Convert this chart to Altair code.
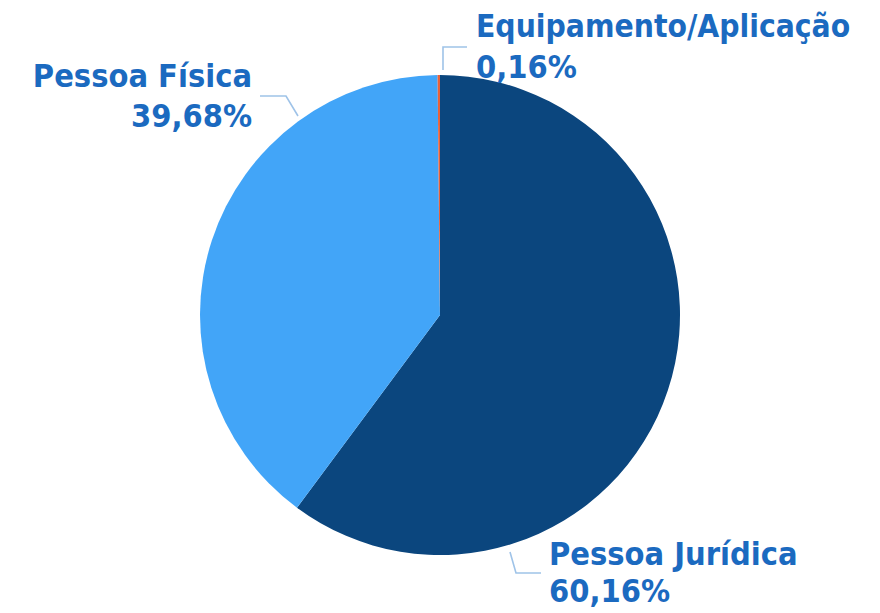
import altair as alt
import pandas as pd

# ---- data ----
categories = ["Pessoa Jurídica", "Pessoa Física", "Equipamento/Aplicação"]
values = [60.16, 39.68, 0.16]
pct_labels = ["60,16%", "39,68%", "0,16%"]
colors = ["#0b467e", "#42a5f8", "#e8613a"]

# ---- layout (annotation positions, in chart pixels) ----
CX, CY, R = 432, 307, 240
FONT = "'DejaVu Sans Condensed', 'Roboto Condensed', Roboto, sans-serif"
TEXT_COLOR = "#1b6ac0"
LINE_COLOR = "#9fc3e8"

label_layout = {
    "Pessoa Jurídica": {"x": 541, "y1": 557, "y2": 594, "align": "left",
                        "leader": [(502, 544), (508, 565), (533, 565)]},
    "Pessoa Física": {"x": 244, "y1": 79, "y2": 119, "align": "right",
                      "leader": [(290, 108), (278, 88), (252, 88)]},
    "Equipamento/Aplicação": {"x": 468, "y1": 29, "y2": 70, "align": "left",
                              "leader": [(435, 62), (435, 39), (459, 39)]},
}
label_sizes = {"Pessoa Jurídica": 32.3, "Pessoa Física": 32.3, "Equipamento/Aplicação": 31.5}

pie_df = pd.DataFrame({"cat": categories, "value": values,
                       "idx": list(range(len(categories)))})

text_rows = []
line_rows = []
for cat, pct in zip(categories, pct_labels):
    L = label_layout[cat]
    fs = label_sizes[cat]
    text_rows.append({"cat": cat, "text": cat, "x": L["x"], "y": L["y1"], "align": L["align"], "fs": fs})
    text_rows.append({"cat": cat, "text": pct, "x": L["x"], "y": L["y2"], "align": L["align"], "fs": 32.3})
    for i, (px, py) in enumerate(L["leader"]):
        line_rows.append({"cat": cat, "x": px, "y": py, "o": i})
text_df = pd.DataFrame(text_rows)
line_df = pd.DataFrame(line_rows)

pie = alt.Chart(pie_df).mark_arc(outerRadius=R).encode(
    theta=alt.Theta("value:Q", stack=True),
    color=alt.Color("cat:N", scale=alt.Scale(domain=categories, range=colors), legend=None),
    order=alt.Order("idx:Q"),
    x=alt.value(CX),
    y=alt.value(CY),
)

lines = alt.Chart(line_df).mark_line(color=LINE_COLOR, strokeWidth=1.6).encode(
    x=alt.X("x:Q", scale=None, axis=None),
    y=alt.Y("y:Q", scale=None, axis=None),
    detail="cat:N",
    order="o:Q",
)

def text_layer(align):
    return alt.Chart(text_df[text_df["align"] == align]).mark_text(
        align=align, baseline="alphabetic", font=FONT,
        fontWeight="bold", color=TEXT_COLOR,
    ).encode(
        x=alt.X("x:Q", scale=None, axis=None),
        y=alt.Y("y:Q", scale=None, axis=None),
        text="text:N",
        size=alt.Size("fs:Q", scale=None, legend=None),
    )

chart = alt.layer(pie, lines, text_layer("left"), text_layer("right")).properties(
    width=864, height=605, autosize=alt.AutoSizeParams(type="none"), padding=0,
    background="white",
).configure_view(stroke=None)

chart.save("out.html", embed_options={"renderer": "svg", "actions": False})
